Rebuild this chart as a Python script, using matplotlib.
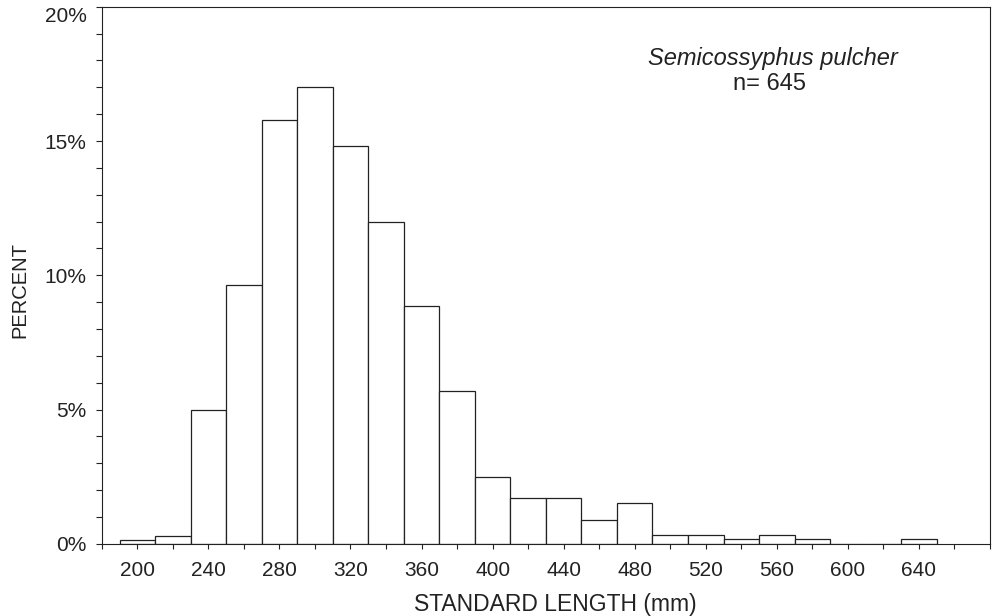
"""
Length frequency histogram for Semicossyphus pulcher (sheephead)
"""

import matplotlib
matplotlib.use('Agg')
import matplotlib.pyplot as plt
from matplotlib.ticker import MultipleLocator, FuncFormatter

"""
data read off the figure
"""

bin_centers = [200, 220, 240, 260, 280, 300, 320, 340, 360, 380, 400, 420,
               440, 460, 480, 500, 520, 540, 560, 580, 600, 620, 640]
percent = [0.16, 0.31, 5.0, 9.65, 15.8, 17.0, 14.8, 12.0, 8.85, 5.7, 2.5, 1.7,
           1.7, 0.88, 1.54, 0.33, 0.33, 0.18, 0.33, 0.18, 0.0, 0.0, 0.18]
bin_width = 20

x_ticks = [200, 240, 280, 320, 360, 400, 440, 480, 520, 560, 600, 640]
y_ticks = [0, 5, 10, 15, 20]

species = 'Semicossyphus pulcher'
n_fish = 645


def main():
    plt.rcParams['font.family'] = ['Liberation Sans', 'DejaVu Sans']
    fig = plt.figure(figsize=(9.98, 6.16), dpi=100)
    ax = fig.add_axes([0.102, 0.117, 0.890, 0.872])

    ax.bar(bin_centers, percent, width=bin_width, color='white',
           edgecolor='#222222', linewidth=0.9)

    ax.set_xlim(180, 680)
    ax.set_ylim(0, 20)

    ax.set_xticks(x_ticks)
    ax.xaxis.set_minor_locator(MultipleLocator(20))
    ax.set_yticks(y_ticks)
    ax.yaxis.set_minor_locator(MultipleLocator(1))
    ax.yaxis.set_major_formatter(FuncFormatter(lambda v, p: '%d%%' % v))

    ax.tick_params(which='both', direction='out', color='#222222', width=0.8)
    ax.tick_params(axis='x', which='both', length=3.6, labelsize=15, pad=9,
                   labelcolor='#222222')
    ax.tick_params(axis='y', which='both', length=4, labelsize=15, pad=7,
                   labelcolor='#222222')

    # top label sits just under the frame line in the original
    ax.get_yticklabels()[-1].set_verticalalignment('top')

    for s in ax.spines.values():
        s.set_color('#222222')
        s.set_linewidth(0.8)

    ax.set_xlabel('STANDARD LENGTH (mm)', fontsize=16.5, color='#222222')
    ax.xaxis.set_label_coords(0.511, -0.091)
    ax.set_ylabel('PERCENT', fontsize=14.5, color='#222222')
    ax.yaxis.set_label_coords(-0.082, 0.473)

    ax.text(0.755, 0.891, species, transform=ax.transAxes, ha='center',
            va='baseline', fontsize=17, style='italic', color='#222222')
    ax.text(0.752, 0.845, 'n= %d' % n_fish, transform=ax.transAxes,
            ha='center', va='baseline', fontsize=17, color='#222222')

    fig.savefig('out.png', dpi=100)


if __name__ == '__main__':
    main()
